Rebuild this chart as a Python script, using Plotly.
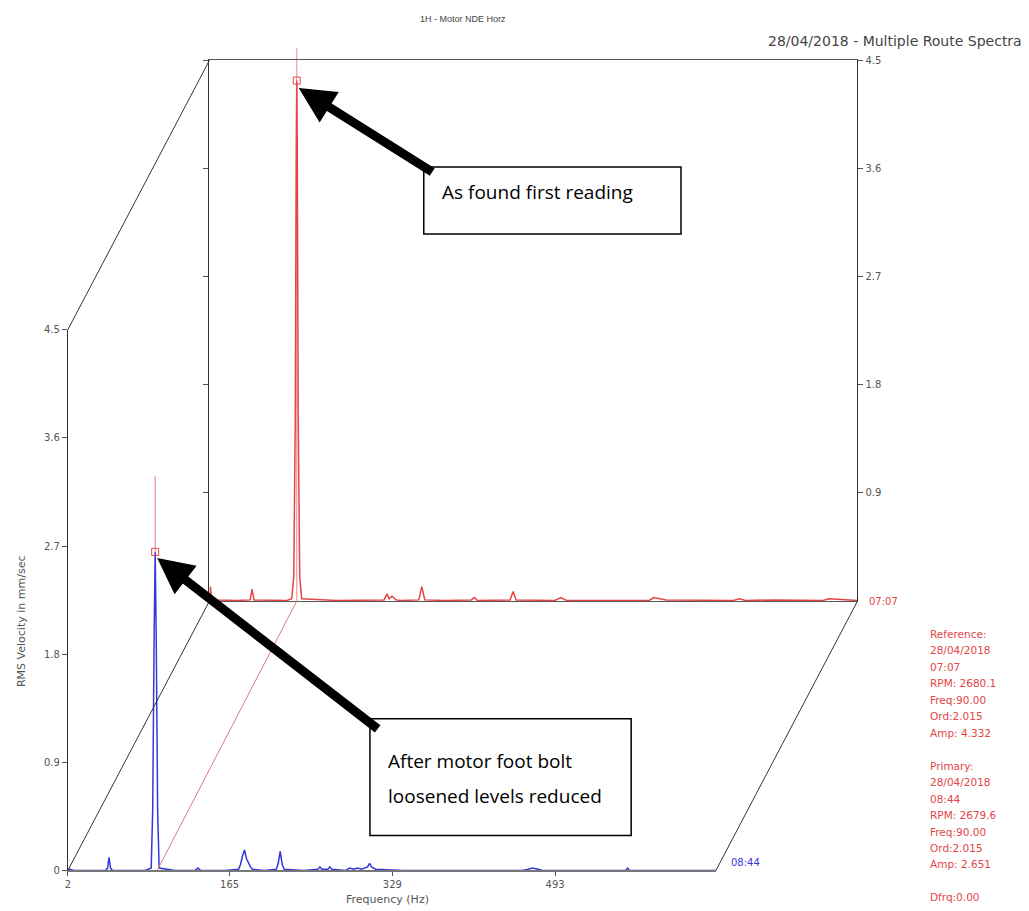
import plotly.graph_objects as go

# ---------------- data ----------------
X_RANGE = [2, 655]
Y_RANGE = [0, 4.5]
x_tickvals = [2, 165, 329, 493]
y_tickvals = [0, 0.9, 1.8, 2.7, 3.6, 4.5]
y_ticktext = ["0", "0.9", "1.8", "2.7", "3.6", "4.5"]

# Reference spectrum (back, 07:07)
ref_freq = [2, 3, 4, 8, 30, 43, 45, 47, 80, 85, 87, 88.5, 89.5, 90, 90.5, 91.5, 93, 95,
            130, 160, 178, 181, 183, 186, 190, 195, 213, 216, 219, 240, 266, 269, 272,
            305, 308, 311, 350, 356, 362, 445, 450, 462, 530, 536, 542, 572, 620, 626, 655]
ref_amp = [0.01, 0.12, 0.03, 0.01, 0.005, 0.01, 0.10, 0.01, 0.005, 0.02, 0.20, 1.5, 3.8, 4.332, 3.8, 1.5, 0.20, 0.02,
           0.005, 0.005, 0.01, 0.06, 0.02, 0.04, 0.01, 0.005, 0.01, 0.12, 0.01, 0.005, 0.01, 0.03, 0.005,
           0.01, 0.08, 0.01, 0.005, 0.03, 0.005, 0.005, 0.03, 0.01, 0.005, 0.02, 0.005, 0.01, 0.005, 0.02, 0.005]

# Primary spectrum (front, 08:44)
pri_freq = [2, 4, 8, 20, 40, 42, 43.5, 45, 47, 60, 80, 86, 87.5, 89, 90, 91, 92.5, 94, 110,
            130, 133, 136, 160, 174, 176, 178, 180, 182, 184, 186, 188, 200, 212, 214, 216, 218, 220,
            240, 254, 256, 258, 264, 266, 268, 282, 286, 290, 294, 298, 302, 304, 306, 308, 312,
            340, 400, 460, 466, 470, 476, 480, 520, 564, 566, 568, 600, 655]
pri_amp = [0.01, 0.01, 0.0, 0.0, 0.0, 0.02, 0.11, 0.02, 0.0, 0.0, 0.0, 0.02, 0.5, 2.0, 2.651, 2.0, 0.5, 0.02, 0.0,
           0.0, 0.02, 0.0, 0.0, 0.01, 0.05, 0.12, 0.17, 0.10, 0.06, 0.03, 0.01, 0.0, 0.01, 0.06, 0.16, 0.05, 0.01,
           0.0, 0.01, 0.03, 0.01, 0.01, 0.03, 0.01, 0.0, 0.02, 0.01, 0.02, 0.01, 0.02, 0.03, 0.06, 0.03, 0.01,
           0.0, 0.0, 0.0, 0.01, 0.02, 0.01, 0.0, 0.0, 0.0, 0.02, 0.0, 0.0, 0.0]

CURSOR_FREQ = 90.00
REF_PEAK = 4.332
PRI_PEAK = 2.651
FRONT_CURSOR_TOP = 3.28

info_lines = ["Reference:", "28/04/2018", "07:07", "RPM: 2680.1", "Freq:90.00", "Ord:2.015", "Amp: 4.332", "",
              "Primary:", "28/04/2018", "08:44", "RPM: 2679.6", "Freq:90.00", "Ord:2.015", "Amp: 2.651", "",
              "Dfrq:0.00"]

# ---------------- geometry (pixels in the browser window) ----------------
W, H = 1029, 911
PAGE_OFF = 8                      # default body margin of the html page
FIG_W, FIG_H = W - 2 * PAGE_OFF, H - PAGE_OFF
F_L, F_R, F_B, F_T = 65, 715, 870, 328
OFF_X, OFF_Y = 142, 270
B_L, B_R, B_B, B_T = F_L + OFF_X, F_R + OFF_X, F_B - OFF_Y, F_T - OFF_Y
V_STRETCH = 1 / 0.989             # vertical correction about y = 330


def px(x):
    return (x - PAGE_OFF) / FIG_W


def py(y):
    yc = 330 + (y - 330) * V_STRETCH
    return 1 - (yc - PAGE_OFF) / FIG_H


def fx_to_px(f, left, right):
    return left + (f - X_RANGE[0]) / (X_RANGE[1] - X_RANGE[0]) * (right - left)


FONT = "DejaVu Sans, Verdana, sans-serif"
FONT_A = "Liberation Sans, Arial, sans-serif"
BOXFONT = "Open Sans, sans-serif"
RED = "rgb(228,70,70)"
BLUE = "rgb(55,55,215)"
TICKC = "#555"

fig = go.Figure()

# back (reference) spectrum
fig.add_trace(go.Scatter(x=ref_freq, y=ref_amp, mode="lines", xaxis="x2", yaxis="y2",
                         line=dict(color=RED, width=1.5), hoverinfo="skip", showlegend=False))
fig.add_trace(go.Scatter(x=[CURSOR_FREQ], y=[REF_PEAK], mode="markers", xaxis="x2", yaxis="y2",
                         marker=dict(symbol="square-open", size=7, color=RED, line=dict(width=1, color=RED)),
                         hoverinfo="skip", showlegend=False))
# front (primary) spectrum
fig.add_trace(go.Scatter(x=pri_freq, y=pri_amp, mode="lines", xaxis="x", yaxis="y",
                         line=dict(color=BLUE, width=1.5), hoverinfo="skip", showlegend=False))
fig.add_trace(go.Scatter(x=[CURSOR_FREQ], y=[PRI_PEAK], mode="markers", xaxis="x", yaxis="y",
                         marker=dict(symbol="square-open", size=7, color=RED, line=dict(width=1, color=RED)),
                         hoverinfo="skip", showlegend=False))

shapes = []
line_k = dict(color="#333", width=1)
# frame connecting lines
for (x0, y0, x1, y1) in [(F_L, F_T, B_L, B_T), (F_L, F_B, B_L, B_B), (F_R, F_B, B_R, B_B)]:
    shapes.append(dict(type="line", xref="paper", yref="paper", x0=px(x0), y0=py(y0), x1=px(x1), y1=py(y1),
                       line=line_k, layer="above"))
# cursor link line (red diagonal)
cf_front = fx_to_px(CURSOR_FREQ, F_L, F_R)
cf_back = fx_to_px(CURSOR_FREQ, B_L, B_R)
shapes.append(dict(type="line", xref="paper", yref="paper", x0=px(cf_front + 2), y0=py(F_B), x1=px(cf_back), y1=py(B_B),
                   line=dict(color="rgb(225,120,120)", width=1), layer="above"))
# cursor verticals
shapes.append(dict(type="line", xref="x", yref="y", x0=CURSOR_FREQ, x1=CURSOR_FREQ, y0=PRI_PEAK, y1=FRONT_CURSOR_TOP,
                   line=dict(color="rgb(230,120,120)", width=1), layer="above"))
shapes.append(dict(type="line", xref="x2", yref="paper", x0=CURSOR_FREQ, x1=CURSOR_FREQ, y0=py(B_B), y1=py(B_T - 12),
                   line=dict(color="rgba(230,110,110,0.8)", width=1), layer="below"))
# text boxes
shapes.append(dict(type="rect", xref="paper", yref="paper", x0=px(422), x1=px(680), y0=py(232), y1=py(165),
                   line=dict(color="black", width=1.5), fillcolor="white", layer="above"))
shapes.append(dict(type="rect", xref="paper", yref="paper", x0=px(368), x1=px(630), y0=py(835), y1=py(718),
                   line=dict(color="black", width=1.5), fillcolor="white", layer="above"))

ann = []
# titles
ann.append(dict(text="1H - Motor NDE Horz", x=px(461), y=py(17), xref="paper", yref="paper", showarrow=False,
                font=dict(family=FONT_A, size=9, color="#444"), xanchor="center", yanchor="middle"))
ann.append(dict(text="28/04/2018 - Multiple Route Spectra", x=px(1024), y=py(39), xref="paper", yref="paper",
                showarrow=False, font=dict(family=FONT, size=14, color="#444"), xanchor="right", yanchor="middle"))
ann.append(dict(text="Frequency (Hz)", x=px(386), y=py(899), xref="paper", yref="paper", showarrow=False,
                font=dict(family=FONT, size=11, color="#555"), xanchor="center", yanchor="middle"))
ann.append(dict(text="RMS Velocity in mm/sec", x=px(18), y=py(620), xref="paper", yref="paper", showarrow=False,
                textangle=-90, font=dict(family=FONT, size=11, color="#555"), xanchor="center", yanchor="middle"))
ann.append(dict(text="07:07", x=px(867), y=py(600), xref="paper", yref="paper", showarrow=False,
                font=dict(family=FONT, size=10, color=RED), xanchor="left", yanchor="middle"))
ann.append(dict(text="08:44", x=px(728), y=py(862), xref="paper", yref="paper", showarrow=False,
                font=dict(family=FONT, size=10, color=BLUE), xanchor="left", yanchor="middle"))
for i, t in enumerate(info_lines):
    if t:
        ann.append(dict(text=t, x=px(928), y=py(633 + i * 16.5), xref="paper", yref="paper", showarrow=False,
                        font=dict(family=FONT, size=10.5, color=RED), xanchor="left", yanchor="middle"))
# box texts
ann.append(dict(text="As found first reading", x=px(438), y=py(190), xref="paper", yref="paper", showarrow=False,
                font=dict(family=BOXFONT, size=19, color="black"), xanchor="left", yanchor="middle"))
ann.append(dict(text="After motor foot bolt", x=px(384), y=py(760), xref="paper", yref="paper", showarrow=False,
                font=dict(family=BOXFONT, size=19, color="black"), xanchor="left", yanchor="middle"))
ann.append(dict(text="loosened levels reduced", x=px(384), y=py(795), xref="paper", yref="paper", showarrow=False,
                font=dict(family=BOXFONT, size=19, color="black"), xanchor="left", yanchor="middle"))
# arrows
ann.append(dict(text="", x=92, y=4.27, xref="x2", yref="y2", ax=135, ay=85, showarrow=True,
                arrowhead=2, arrowsize=0.8, arrowwidth=9, arrowcolor="black"))
ann.append(dict(text="", x=92, y=2.6, xref="x", yref="y", ax=222, ay=172, showarrow=True,
                arrowhead=2, arrowsize=0.8, arrowwidth=9, arrowcolor="black"))

tickfont = dict(family=FONT, size=10, color=TICKC)
fig.update_layout(
    width=FIG_W, height=FIG_H, autosize=False,
    margin=dict(l=0, r=0, t=0, b=0),
    paper_bgcolor="white", plot_bgcolor="rgba(0,0,0,0)",
    showlegend=False,
    xaxis=dict(domain=[px(F_L), px(F_R)], range=X_RANGE, anchor="y", showline=True, linecolor="#777", linewidth=2,
               ticks="outside", ticklen=4, tickcolor="#555", tickvals=x_tickvals, tickfont=tickfont,
               showgrid=False, zeroline=False, fixedrange=True),
    yaxis=dict(domain=[py(F_B), py(F_T)], range=Y_RANGE, anchor="x", showline=True, linecolor="#333", linewidth=1,
               ticks="outside", ticklen=5, tickcolor="#555", tickvals=y_tickvals, ticktext=y_ticktext,
               tickfont=tickfont, showgrid=False, zeroline=False, fixedrange=True),
    xaxis2=dict(domain=[px(B_L), px(B_R)], range=X_RANGE, anchor="y2", showline=True, linecolor="#555", linewidth=1,
                mirror=True, ticks="", showticklabels=False, showgrid=False, zeroline=False, fixedrange=True),
    yaxis2=dict(domain=[py(B_B), py(B_T)], range=Y_RANGE, anchor="x2", side="right", showline=True,
                linecolor="#333", linewidth=1, mirror="ticks", ticks="outside", ticklen=5, tickcolor="#555",
                tickvals=y_tickvals[1:], ticktext=y_ticktext[1:], tickfont=tickfont,
                showgrid=False, zeroline=False, fixedrange=True),
    shapes=shapes,
    annotations=ann,
)

fig.write_html("out.html")
